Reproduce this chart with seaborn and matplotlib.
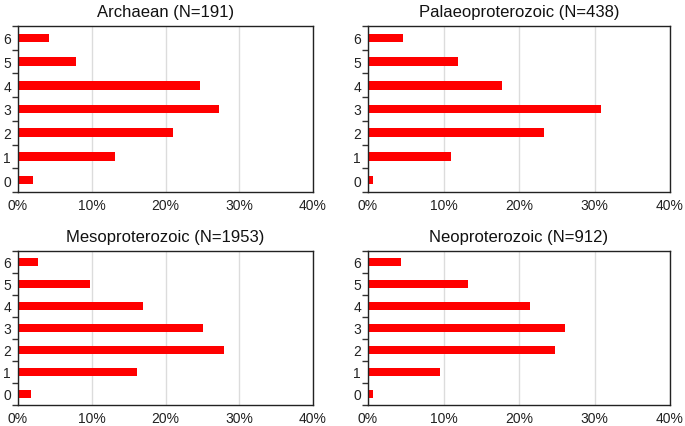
import matplotlib
matplotlib.use("Agg")
import matplotlib.pyplot as plt
import seaborn as sns
import pandas as pd
from matplotlib.ticker import FixedLocator, FuncFormatter

categories = ["0", "1", "2", "3", "4", "5", "6"]
archaean = [2.1, 13.1, 21.0, 27.3, 24.7, 7.9, 4.2]
palaeo = [0.7, 11.0, 23.3, 30.8, 17.8, 11.9, 4.6]
meso = [1.7, 16.1, 27.9, 25.1, 17.0, 9.7, 2.7]
neo = [0.6, 9.5, 24.8, 26.1, 21.5, 13.3, 4.4]
titles = ["Archaean (N=191)", "Palaeoproterozoic (N=438)",
          "Mesoproterozoic (N=1953)", "Neoproterozoic (N=912)"]
x_ticks = [0, 10, 20, 30, 40]

sns.set_theme(style="white")
plt.rcParams["font.family"] = ["Liberation Sans", "DejaVu Sans"]

fig = plt.figure(figsize=(6.85, 4.27), dpi=100)
W, H = 685, 427
boxes = [
    (18, 27, 313, 193),
    (368, 27, 670, 193),
    (18, 252, 313, 406),
    (368, 252, 670, 406),
]
series = [archaean, palaeo, meso, neo]
order = categories[::-1]

for (l, t, r, b), vals, title in zip(boxes, series, titles):
    ax = fig.add_axes([l / W, 1 - b / H, (r - l) / W, (b - t) / H])
    df = pd.DataFrame({"cat": categories, "val": vals})
    sns.barplot(data=df, x="val", y="cat", order=order, color="#ff0000",
                saturation=1, width=0.36, ax=ax, orient="h", linewidth=0)
    ax.set_xlim(0, 40)
    ax.set_ylim(6.5, -0.5)
    ax.set_xticks(x_ticks)
    ax.xaxis.set_major_formatter(FuncFormatter(lambda v, p: f"{int(v)}%"))
    ax.grid(axis="x", color="#dcdcdc", linewidth=1)
    ax.set_axisbelow(True)
    ax.set_xlabel("")
    ax.set_ylabel("")
    ax.yaxis.set_minor_locator(FixedLocator([i - 0.5 for i in range(8)]))
    ax.tick_params(axis="y", which="major", length=0, pad=5, labelsize=10, colors="#222222")
    ax.tick_params(axis="y", which="minor", length=4, width=1, color="#333333", left=True, direction="out")
    ax.tick_params(axis="x", which="both", length=0, pad=4, labelsize=10, colors="#222222")
    for s in ax.spines.values():
        s.set_visible(True)
        s.set_color("#222222")
        s.set_linewidth(1.0)
    ax.set_title(title, fontsize=12, color="#111111", pad=7)

fig.savefig("out.png", dpi=100)
